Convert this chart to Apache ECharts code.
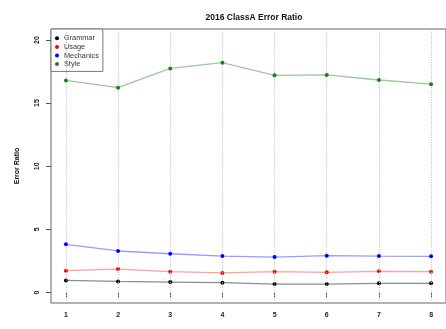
<!DOCTYPE html>
<html>
<head>
<meta charset="utf-8">
<script src="https://cdn.jsdelivr.net/npm/echarts@6/dist/echarts.min.js"></script>
<style>
html,body{margin:0;padding:0;background:#fff;}
#c{width:446px;height:329px;}
</style>
</head>
<body>
<div id="c"></div>
<script>
var categories = [1, 2, 3, 4, 5, 6, 7, 8];
var yTicks = [0, 5, 10, 15, 20];
var grammar = [0.96, 0.88, 0.83, 0.78, 0.67, 0.67, 0.73, 0.73];
var usage = [1.73, 1.86, 1.65, 1.55, 1.65, 1.60, 1.68, 1.65];
var mechanics = [3.82, 3.29, 3.07, 2.89, 2.81, 2.92, 2.89, 2.87];
var style = [16.8, 16.22, 17.75, 18.2, 17.2, 17.23, 16.83, 16.5];

var seriesDefs = [
  {name: 'Grammar', data: grammar, point: '#000000', line: '#8c8c8c'},
  {name: 'Usage', data: usage, point: '#ff0000', line: '#ffa0a0'},
  {name: 'Mechanics', data: mechanics, point: '#0000ff', line: '#9a9aff'},
  {name: 'Style', data: style, point: '#1f7f1f', line: '#9cc89c'}
];

var font = 'Liberation Sans, Arial, Helvetica, sans-serif';

var series = seriesDefs.map(function (s, i) {
  var o = {
    name: s.name,
    type: 'line',
    data: categories.map(function (c, j) { return [c, s.data[j]]; }),
    symbol: 'circle',
    symbolSize: 4,
    showSymbol: true,
    lineStyle: {color: s.line, width: 1.3},
    itemStyle: {color: s.point},
    z: 3 + i,
    animation: false
  };
  if (i === 0) {
    o.markLine = {
      silent: true,
      symbol: ['none', 'none'],
      label: {show: false},
      animation: false,
      lineStyle: {color: '#bdbdbd', type: [1, 1.5], width: 1},
      emphasis: {disabled: true},
      data: categories.map(function (c) { return {xAxis: c}; })
    };
  }
  return o;
});

var chart = echarts.init(document.getElementById('c'), null, {renderer: 'canvas'});
chart.setOption({
  animation: false,
  backgroundColor: '#ffffff',
  textStyle: {fontFamily: font},
  title: {
    text: '2016 ClassA Error Ratio',
    left: 249, top: 8, textAlign: 'center',
    textStyle: {fontSize: 8.5, fontWeight: 'bold', color: '#111', fontFamily: font}
  },
  legend: {
    left: 51, top: 29,
    orient: 'vertical',
    icon: 'circle',
    itemWidth: 4, itemHeight: 4,
    itemGap: 0,
    padding: [5, 4, 3, 4],
    backgroundColor: '#ffffff',
    borderColor: '#777',
    borderWidth: 1,
    borderRadius: 0,
    textStyle: {fontSize: 7.3, lineHeight: 8.6, color: '#333', fontFamily: font},
    data: seriesDefs.map(function (s) { return s.name; }),
    selectedMode: false
  },
  grid: {
    left: 51, top: 29, right: -2, bottom: 26,
    show: true, borderColor: '#666', borderWidth: 1, backgroundColor: 'transparent'
  },
  xAxis: {
    type: 'value',
    min: 0.714, max: 8.286,
    axisLine: {show: false},
    splitLine: {show: false},
    axisTick: {show: true, length: 5, lineStyle: {color: '#555'}, customValues: categories},
    axisLabel: {customValues: categories, fontSize: 7, fontWeight: 'bold', color: '#222', margin: 9, fontFamily: font}
  },
  yAxis: {
    type: 'value',
    min: -0.83, max: 20.87,
    name: 'Error Ratio',
    nameLocation: 'middle',
    nameRotate: 90,
    nameGap: 30,
    nameTextStyle: {fontSize: 7, fontWeight: 'bold', color: '#111', fontFamily: font},
    axisLine: {show: false},
    splitLine: {show: false},
    axisTick: {show: true, length: 5, lineStyle: {color: '#555'}, customValues: yTicks},
    axisLabel: {customValues: yTicks, rotate: 90, fontSize: 7, fontWeight: 'bold', color: '#222', margin: 10, fontFamily: font}
  },
  series: series
});
</script>
</body>
</html>
